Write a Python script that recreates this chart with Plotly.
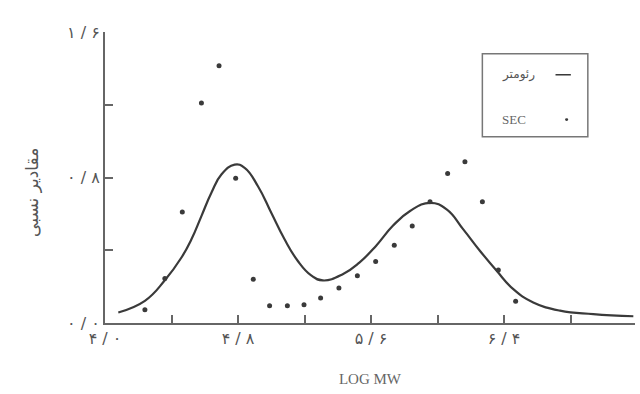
import plotly.graph_objects as go

# SEC data points (log MW, relative amount)
sec_x = [4.24, 4.36, 4.465, 4.58, 4.686, 4.786, 4.892, 4.99, 5.097, 5.197, 5.297,
         5.407, 5.518, 5.628, 5.74, 5.848, 5.955, 6.061, 6.165, 6.27, 6.366, 6.47]
sec_y = [0.073, 0.245, 0.61, 1.21, 1.414, 0.796, 0.241, 0.095, 0.095, 0.10, 0.137,
         0.192, 0.26, 0.338, 0.427, 0.533, 0.667, 0.822, 0.886, 0.667, 0.292, 0.119]

# Rheometer curve
rheo_x = [4.08, 4.24, 4.36, 4.46, 4.52, 4.58, 4.64, 4.70, 4.78, 4.84, 4.92, 5.00,
          5.08, 5.16, 5.24, 5.31, 5.43, 5.53, 5.63, 5.73, 5.835, 5.955, 6.055, 6.155,
          6.256, 6.356, 6.456, 6.576, 6.737, 6.937, 7.178]
rheo_y = [0.058, 0.122, 0.235, 0.36, 0.46, 0.588, 0.716, 0.816, 0.871, 0.853, 0.752,
          0.606, 0.46, 0.341, 0.262, 0.234, 0.268, 0.332, 0.424, 0.533, 0.616, 0.661,
          0.625, 0.515, 0.396, 0.287, 0.186, 0.113, 0.068, 0.049, 0.037]

x_tickvals = [4.0, 4.4, 4.8, 5.2, 5.6, 6.0, 6.4, 6.8]
x_ticktext = ["۴ / ۰", "", "۴ / ۸", "", "۵ / ۶", "", "۶ / ۴", ""]
y_tickvals = [0.0, 0.4, 0.8, 1.2, 1.6]
y_ticktext = ["۰ / ۰", "", "۰ / ۸", "", "۱ / ۶"]

legend_labels = ["رئومتر", "SEC"]
x_title = "LOG MW"
y_title = "مقادیر نسبی"

ink = "#3a3a3a"
axis_col = "#666666"

fig = go.Figure()
fig.add_trace(go.Scatter(x=rheo_x, y=rheo_y, mode="lines",
                         line=dict(color=ink, width=2.2, shape="spline", smoothing=1.3),
                         name=legend_labels[0], showlegend=False))
fig.add_trace(go.Scatter(x=sec_x, y=sec_y, mode="markers",
                         marker=dict(color=ink, size=5),
                         name=legend_labels[1], showlegend=False))

tickfont = dict(family="DejaVu Sans", size=16, color="#555555")
fig.update_layout(
    width=640, height=394,
    margin=dict(l=105, r=5, t=32, b=71),
    plot_bgcolor="white", paper_bgcolor="white",
    xaxis=dict(range=[4.0, 7.188], tickvals=x_tickvals, ticktext=x_ticktext,
               ticks="inside", ticklen=8, tickcolor=axis_col, tickwidth=1.5,
               showline=True, linecolor=axis_col, linewidth=2, showgrid=False,
               zeroline=False, tickfont=tickfont,
               title=dict(text=x_title, font=dict(family="Liberation Serif", size=15, color="#666666"),
                          standoff=26)),
    yaxis=dict(range=[0, 1.6], tickvals=y_tickvals, ticktext=y_ticktext,
               ticks="inside", ticklen=8, tickcolor=axis_col, tickwidth=1.5,
               showline=True, linecolor=axis_col, linewidth=2, showgrid=False,
               zeroline=False, tickfont=tickfont),
)

# y-axis title
fig.add_annotation(text=y_title, xref="paper", yref="paper", x=-0.138, y=0.45,
                   xanchor="center", yanchor="middle",
                   textangle=-90, showarrow=False,
                   font=dict(family="DejaVu Sans", size=17, color="#555555"))

# legend box drawn to mimic the right-to-left legend
fig.add_shape(type="rect", xref="paper", yref="paper", x0=0.712, x1=0.911, y0=0.64, y1=0.925,
              line=dict(color="#777777", width=1.5), fillcolor="white")
fig.add_shape(type="line", xref="paper", yref="paper", x0=0.850, x1=0.879, y0=0.853, y1=0.853,
              line=dict(color=ink, width=1.5))
fig.add_shape(type="circle", xref="paper", yref="paper", x0=0.868, x1=0.874, y0=0.694, y1=0.704,
              line=dict(color=ink, width=0), fillcolor=ink)
fig.add_annotation(text=legend_labels[0], xref="paper", yref="paper", x=0.781, y=0.853,
                   xanchor="center", yanchor="middle",
                   showarrow=False, font=dict(family="DejaVu Sans", size=12, color="#555555"))
fig.add_annotation(text=legend_labels[1], xref="paper", yref="paper", x=0.771, y=0.699,
                   xanchor="center", yanchor="middle",
                   showarrow=False, font=dict(family="Liberation Serif", size=13, color="#666666"))

fig.write_html("out.html")
